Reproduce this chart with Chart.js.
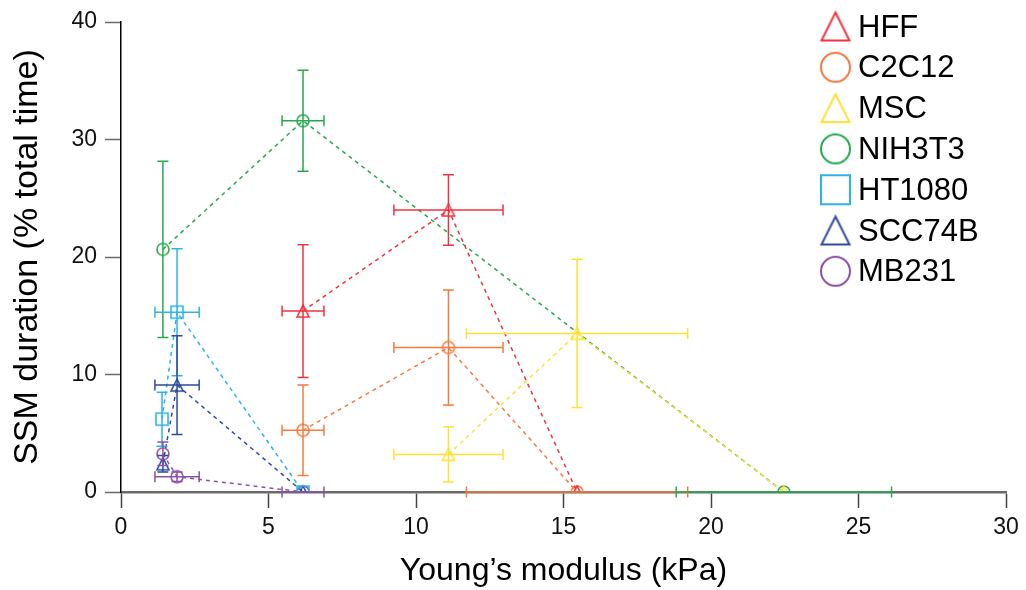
<!DOCTYPE html>
<html>
<head>
<meta charset="utf-8">
<script src="https://cdn.jsdelivr.net/npm/chart.js@4/dist/chart.umd.min.js"></script>
<style>
  html, body { margin: 0; padding: 0; background: #fff; }
</style>
</head>
<body>
<canvas id="ssmChart" width="1026" height="590"></canvas>
<script>
// cell lines, in legend order
const cellLines = ["HFF", "C2C12", "MSC", "NIH3T3", "HT1080", "SCC74B", "MB231"];
const lineColors = ["#ef3340", "#f47a3f", "#fde235", "#27a94f", "#2cb4e8", "#2d4b9f", "#8c50a8"];
const markerShapes = ["triangle", "circle", "triangle", "circle", "square", "triangle", "circle"];

// Young's modulus (kPa) +- error, SSM duration (% total time) +- error
const hffX = [6.17, 11.1, 15.46];
const hffXErr = [0.71, 1.85, 0];
const hffY = [15.4, 24.0, 0];
const hffYErr = [5.65, 3.0, 0];

const c2c12X = [6.17, 11.1, 15.46];
const c2c12XErr = [0.71, 1.85, 3.75];
const c2c12Y = [5.25, 12.3, 0];
const c2c12YErr = [3.85, 4.9, 0];

const mscX = [11.1, 15.46, 22.47];
const mscXErr = [1.85, 3.75, 0];
const mscY = [3.2, 13.5, 0];
const mscYErr = [2.35, 6.3, 0];

const nih3t3X = [1.42, 6.17, 22.47];
const nih3t3XErr = [0, 0.71, 3.65];
const nih3t3Y = [20.65, 31.6, 0];
const nih3t3YErr = [7.5, 4.3, 0];

const ht1080X = [1.39, 1.9, 6.17];
const ht1080XErr = [0, 0.75, 0];
const ht1080Y = [6.2, 15.3, 0];
const ht1080YErr = [2.3, 5.4, 0];

const scc74bX = [1.42, 1.9, 6.17];
const scc74bXErr = [0, 0.75, 0];
const scc74bY = [2.4, 9.1, 0];
const scc74bYErr = [0.7, 4.2, 0];

const mb231X = [1.42, 1.9, 6.17];
const mb231XErr = [0, 0.75, 0.71];
const mb231Y = [3.25, 1.3, 0];
const mb231YErr = [1.0, 0.4, 0];

const xTicks = [0, 5, 10, 15, 20, 25, 30];
const yTicks = [0, 10, 20, 30, 40];

const seriesX = [hffX, c2c12X, mscX, nih3t3X, ht1080X, scc74bX, mb231X];
const seriesXErr = [hffXErr, c2c12XErr, mscXErr, nih3t3XErr, ht1080XErr, scc74bXErr, mb231XErr];
const seriesY = [hffY, c2c12Y, mscY, nih3t3Y, ht1080Y, scc74bY, mb231Y];
const seriesYErr = [hffYErr, c2c12YErr, mscYErr, nih3t3YErr, ht1080YErr, scc74bYErr, mb231YErr];

const FONT = "'Liberation Sans', Arial, sans-serif";

// hollow marker drawn on a small canvas so the shapes match the figure
function makeMarker(shape, color, size, lw) {
  const c = document.createElement("canvas");
  const pad = Math.ceil(lw) + 1;
  c.width = c.height = size + pad * 2;
  const g = c.getContext("2d");
  g.strokeStyle = color;
  g.lineWidth = lw;
  const m = c.width / 2, h = size / 2;
  g.beginPath();
  if (shape === "circle") {
    g.arc(m, m, h, 0, Math.PI * 2);
  } else if (shape === "square") {
    g.rect(m - h, m - h, size, size);
  } else {
    g.moveTo(m, m - h);
    g.lineTo(m + h, m + h);
    g.lineTo(m - h, m + h);
    g.closePath();
  }
  g.stroke();
  return c;
}

const datasets = cellLines.map((name, i) => ({
  label: name,
  data: seriesX[i].map((v, j) => ({
    x: v, y: seriesY[i][j], xErr: seriesXErr[i][j], yErr: seriesYErr[i][j]
  })),
  showLine: true,
  borderColor: lineColors[i],
  borderWidth: 1.5,
  borderDash: [4, 4],
  pointStyle: makeMarker(markerShapes[i], lineColors[i], markerShapes[i] === "triangle" ? 12 : 12, 1.6),
  pointRadius: 6,
  pointBackgroundColor: "rgba(0,0,0,0)",
  legendMarker: makeMarker(markerShapes[i], lineColors[i], markerShapes[i] === "triangle" ? 28 : 29, 2),
}));

const errorBars = {
  id: "errorBars",
  afterDatasetsDraw(chart) {
    const { ctx, scales: { x, y } } = chart;
    const cap = 5.5;
    ctx.save();
    ctx.lineWidth = 1.5;
    ctx.setLineDash([]);
    chart.data.datasets.forEach((ds) => {
      ctx.strokeStyle = ds.borderColor;
      ds.data.forEach((p) => {
        const px = x.getPixelForValue(p.x);
        const py = y.getPixelForValue(p.y);
        ctx.beginPath();
        if (p.yErr > 0) {
          const t = y.getPixelForValue(p.y + p.yErr);
          const b = y.getPixelForValue(p.y - p.yErr);
          ctx.moveTo(px, t); ctx.lineTo(px, b);
          ctx.moveTo(px - cap, t); ctx.lineTo(px + cap, t);
          ctx.moveTo(px - cap, b); ctx.lineTo(px + cap, b);
        }
        if (p.xErr > 0) {
          const l = x.getPixelForValue(p.x - p.xErr);
          const r = x.getPixelForValue(p.x + p.xErr);
          ctx.moveTo(l, py); ctx.lineTo(r, py);
          ctx.moveTo(l, py - cap); ctx.lineTo(l, py + cap);
          ctx.moveTo(r, py - cap); ctx.lineTo(r, py + cap);
        }
        ctx.stroke();
      });
    });
    ctx.restore();
  }
};

const sideLegend = {
  id: "sideLegend",
  afterDraw(chart) {
    const ctx = chart.ctx;
    ctx.save();
    ctx.font = "31px " + FONT;
    ctx.fillStyle = "#000";
    ctx.textBaseline = "middle";
    ctx.textAlign = "left";
    chart.data.datasets.forEach((ds, i) => {
      const yy = 26.5 + i * 40.8;
      const m = ds.legendMarker;
      ctx.drawImage(m, 835.5 - m.width / 2, yy - m.height / 2);
      ctx.fillText(ds.label, 858, yy + 1.5);
    });
    ctx.restore();
  }
};

const ctx = document.getElementById("ssmChart").getContext("2d");
new Chart(ctx, {
  type: "scatter",
  data: { datasets: datasets },
  options: {
    responsive: false,
    animation: false,
    devicePixelRatio: 1,
    layout: { padding: { top: 22, right: 20, left: 0, bottom: 0 } },
    plugins: {
      legend: { display: false },
      tooltip: { enabled: false },
    },
    scales: {
      x: {
        type: "linear",
        min: 0,
        max: 30,
        afterFit: (s) => { s.height = 98; },
        afterBuildTicks: (s) => { s.ticks = xTicks.map((v) => ({ value: v })); },
        border: { color: "#6b6b6b", width: 2.5 },
        grid: { drawOnChartArea: false, drawTicks: true, tickLength: 16, tickColor: "#444", tickWidth: 1.5 },
        ticks: { color: "#111", padding: 6, font: { family: FONT, size: 23 }, maxRotation: 0 },
        title: {
          display: true,
          text: "Young\u2019s modulus (kPa)",
          color: "#000",
          font: { family: FONT, size: 32 },
          padding: { top: 0, bottom: 0 },
        },
      },
      y: {
        type: "linear",
        min: 0,
        max: 40,
        afterFit: (s) => { s.width = 121; },
        afterBuildTicks: (s) => { s.ticks = yTicks.map((v) => ({ value: v })); },
        border: { color: "#000", width: 1.5 },
        grid: { drawOnChartArea: false, drawTicks: true, tickLength: 16, tickColor: "#6b6b6b", tickWidth: 1.5 },
        ticks: { color: "#111", padding: 8, font: { family: FONT, size: 23 } },
        title: {
          display: true,
          text: "SSM duration (% total time)",
          color: "#000",
          font: { family: FONT, size: 34 },
          padding: { top: 7, bottom: 0 },
        },
      },
    },
  },
  plugins: [errorBars, sideLegend],
});
</script>
</body>
</html>
